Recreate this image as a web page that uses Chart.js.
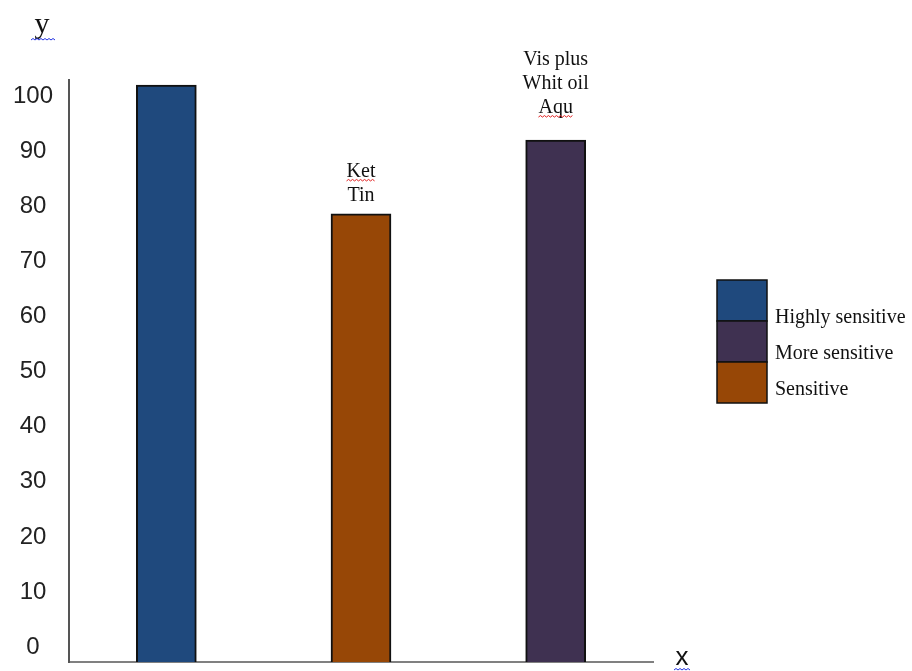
<!DOCTYPE html>
<html>
<head>
<meta charset="utf-8">
<script src="https://cdn.jsdelivr.net/npm/chart.js@4.4.0/dist/chart.umd.min.js"></script>
<style>
  html, body { margin: 0; padding: 0; background: #fff; }
  #wrap { width: 912px; height: 671px; }
</style>
</head>
<body>
<div id="wrap"><canvas id="sensChart"></canvas></div>
<script>
// data
const categories = ['Highly sensitive', 'Sensitive', 'More sensitive'];
const values = [102, 78.6, 92];
const barColors = ['#1F497D', '#974706', '#3F3151'];
const barNotes = [[], ['Ket', 'Tin'], ['Vis plus', 'Whit oil', 'Aqu']];
const yTicks = [0, 10, 20, 30, 40, 50, 60, 70, 80, 90, 100];
const legendLabels = ['Highly sensitive', 'More sensitive', 'Sensitive'];
const legendColors = ['#1F497D', '#3F3151', '#974706'];

const yMin = -2.7;
const yMax = 102.9;
const serif = '"Liberation Serif", "DejaVu Serif", serif';
const noteGap = [0, 9, 23]; // space between note and bar top

function squiggle(ctx, x1, x2, y, color) {
    ctx.save();
    ctx.strokeStyle = color;
    ctx.lineWidth = 1;
    ctx.beginPath();
    let up = true;
    ctx.moveTo(x1, y);
    for (let x = x1 + 2; x <= x2; x += 2) {
        ctx.lineTo(x, up ? y - 1.5 : y);
        up = !up;
    }
    ctx.stroke();
    ctx.restore();
}

// notes above bars, axis letters and stacked legend
const extras = {
    id: 'extras',
    afterDraw(chart) {
        const ctx = chart.ctx;
        const meta = chart.getDatasetMeta(0);
        ctx.save();
        ctx.fillStyle = '#111';
        ctx.font = '20px ' + serif;
        ctx.textAlign = 'center';
        ctx.textBaseline = 'alphabetic';
        meta.data.forEach((bar, i) => {
            const lines = barNotes[i];
            const lh = 24;
            lines.forEach((txt, j) => {
                const y = bar.y - noteGap[i] - 4 - (lines.length - 1 - j) * lh;
                ctx.fillText(txt, bar.x, y);
                if (txt === 'Ket' || txt === 'Aqu') {
                    const w = ctx.measureText(txt).width;
                    squiggle(ctx, bar.x - w / 2, bar.x + w / 2, y + 4, '#e02020');
                }
            });
        });

        // axis letters
        ctx.font = '30px ' + serif;
        ctx.fillText('y', 42, 33);
        squiggle(ctx, 31, 55, 40, '#2030e0');
        ctx.font = '26px "Liberation Sans", Arial, sans-serif';
        ctx.fillText('x', 682, 665);
        squiggle(ctx, 674, 690, 670, '#2030e0');

        // legend: stacked swatches
        const lx = 717, lw = 50, top = 280, h = 41;
        ctx.font = '20px ' + serif;
        ctx.textAlign = 'left';
        ctx.textBaseline = 'middle';
        legendLabels.forEach((lab, i) => {
            const y = top + i * h;
            ctx.fillStyle = legendColors[i];
            ctx.fillRect(lx, y, lw, h);
            ctx.strokeStyle = '#111';
            ctx.lineWidth = 1.5;
            ctx.strokeRect(lx, y, lw, h);
            ctx.fillStyle = '#111';
            ctx.fillText(lab, lx + lw + 8, y + h - 3 - i * 5);
        });
        ctx.restore();
    }
};

new Chart(document.getElementById('sensChart'), {
    type: 'bar',
    data: {
        labels: categories,
        datasets: [{
            data: values,
            base: yMin,
            backgroundColor: barColors,
            borderColor: '#111',
            borderWidth: 2,
            barThickness: 60
        }]
    },
    options: {
        responsive: true,
        maintainAspectRatio: false,
        animation: false,
        layout: { padding: { left: 0, top: 80, right: 259, bottom: 0 } },
        plugins: {
            legend: { display: false },
            tooltip: { enabled: false }
        },
        scales: {
            x: {
                afterFit: axis => { axis.height = 9; },
                grid: { display: false, drawTicks: false },
                border: { display: true, color: '#808080', width: 2 },
                ticks: { display: false }
            },
            y: {
                min: yMin,
                max: yMax,
                afterBuildTicks: axis => { axis.ticks = yTicks.map(v => ({ value: v })); },
                afterFit: axis => { axis.width = 69; axis.paddingTop = 0; axis.paddingBottom = 0; },
                grid: { display: false, drawTicks: false },
                border: { display: true, color: '#555', width: 2 },
                ticks: {
                    color: '#222',
                    padding: 16,
                    crossAlign: 'center',
                    font: { family: '"Liberation Sans", Arial, sans-serif', size: 24 }
                }
            }
        }
    },
    plugins: [extras]
});
</script>
</body>
</html>
